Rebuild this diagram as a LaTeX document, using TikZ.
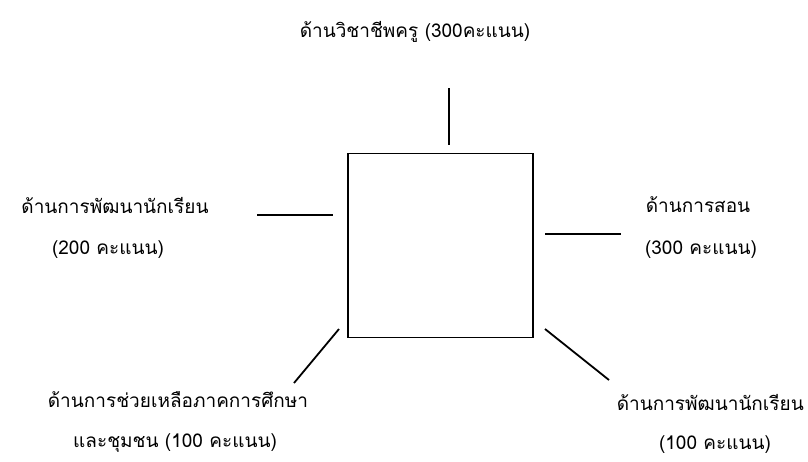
\documentclass[tikz,border=0pt]{standalone}
\usepackage{fontspec}
\newfontfamily\thaifont[Script=Thai]{Loma}
\begin{document}
\begin{tikzpicture}[x=1pt,y=-1pt,
  lbl/.style={font=\thaifont\fontsize{19}{23}\selectfont, inner sep=0pt, anchor=center},
  stroke/.style={line width=1.8pt, black},
  boxstyle/.style={draw, line width=1.8pt, minimum width=185pt, minimum height=184pt, inner sep=0pt}]
\useasboundingbox (0,0) rectangle (808,461);
\node[boxstyle] (box) at (440.5,245.5) {};
% labels
\node[lbl] (top) at (415,32) {ด้านวิชาชีพครู (300คะแนน)};
\node[lbl] (l1) at (115,205) {ด้านการพัฒนานักเรียน};
\node[lbl] (l2) at (108,250) {(200 คะแนน)};
\node[lbl] (r1) at (698,205) {ด้านการสอน};
\node[lbl] (r2) at (701,250) {(300 คะแนน)};
\node[lbl] (bl1) at (178,400) {ด้านการช่วยเหลือภาคการศึกษา};
\node[lbl] (bl2) at (175,443) {และชุมชน (100 คะแนน)};
\node[lbl, anchor=east] (br1) at (804,402) {ด้านการพัฒนานักเรียน};
\node[lbl] (br2) at (715,445) {(100 คะแนน)};
% connector end points
\coordinate (t1) at (449,88);  \coordinate (t2) at (449,145);
\coordinate (a1) at (257,215); \coordinate (a2) at (333,215);
\coordinate (b1) at (545,234); \coordinate (b2) at (621,234);
\coordinate (c1) at (339,329); \coordinate (c2) at (294,383);
\coordinate (d1) at (545,329); \coordinate (d2) at (609,380);
\draw[stroke] (t1) -- (t2);
\draw[stroke] (a1) -- (a2);
\draw[stroke] (b1) -- (b2);
\draw[stroke] (c1) -- (c2);
\draw[stroke] (d1) -- (d2);
\end{tikzpicture}
\end{document}
